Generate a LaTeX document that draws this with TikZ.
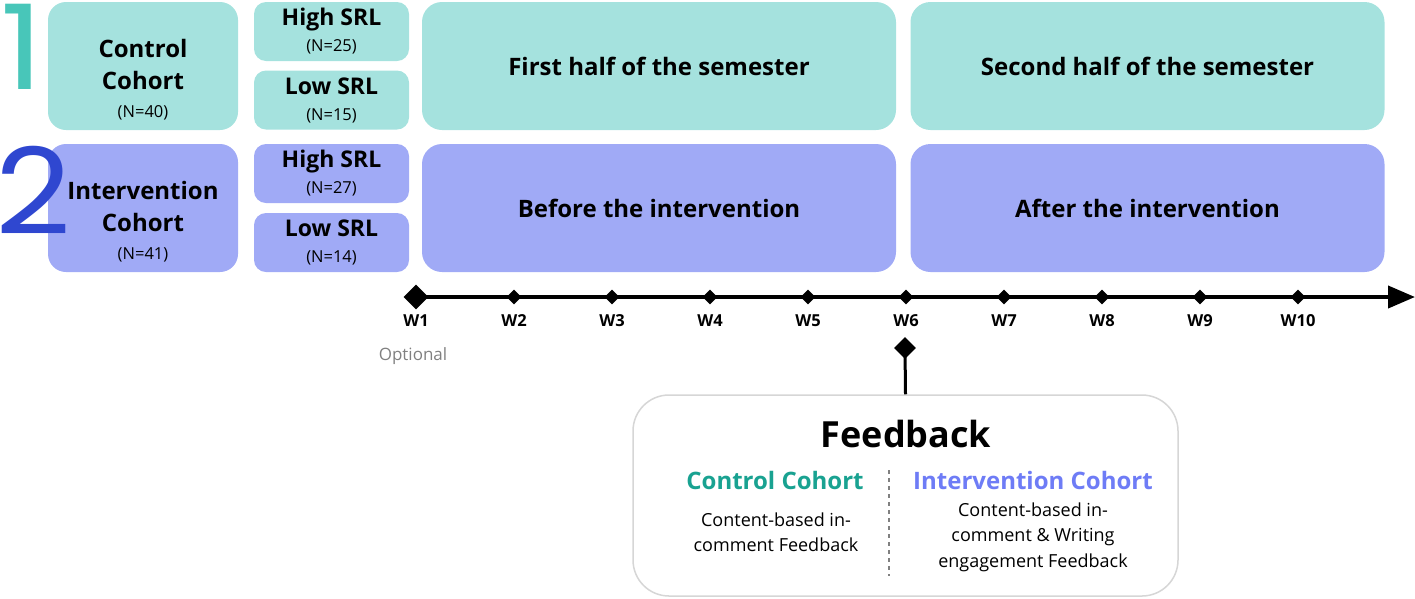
\documentclass[tikz,border=0pt]{standalone}
\usepackage{fontspec}
\setmainfont{Open Sans}
\newfontfamily\digitfont[FakeStretch=1.15]{Poppins}
\newfontfamily\digitwide[FakeStretch=1.1]{Poppins}
\usepackage{tikz}
\usetikzlibrary{shapes.geometric,arrows.meta}

\definecolor{tealbox}{HTML}{A5E2DE}
\definecolor{lavbox}{HTML}{A0AAF6}
\definecolor{tealdigit}{HTML}{48C6B9}
\definecolor{bluedigit}{HTML}{2F47D0}
\definecolor{tealtext}{HTML}{19A291}
\definecolor{lavtext}{HTML}{6E7CF6}
\definecolor{fbborder}{HTML}{D6D6D6}

\newcommand{\nsmall}{\fontsize{16.5}{18}\selectfont\mdseries}

\tikzset{
  cohortbox/.style={rounded corners=18pt,minimum width=190pt,minimum height=128pt},
  cohorttext/.style={align=center,font=\bfseries\fontsize{24}{32}\selectfont},
  srlbox/.style={rounded corners=12pt,minimum width=155pt,minimum height=59pt,align=center,font=\bfseries\fontsize{23}{28}\selectfont},
  phasebox/.style={rounded corners=20pt,minimum width=474pt,minimum height=128pt,font=\bfseries\fontsize{24}{28}\selectfont},
  weekmark/.style={shape=diamond,fill=black,inner sep=0pt,minimum size=15pt},
  weeklabel/.style={font=\bfseries\fontsize{16.5}{18}\selectfont}
}

\begin{document}
\begin{tikzpicture}[x=1pt,y=-1pt]
	\useasboundingbox (0,0) rectangle (1415,598);

	% control cohort row
	\node[cohortbox,fill=tealbox] (ctrl) at (143,66) {};
	\node[cohorttext] (ctrltext) at ([yshift=-14pt]ctrl.center) {Control\\Cohort\\[-4pt]{\nsmall(N=40)}};
	\node[srlbox,fill=tealbox] (chigh) at (331.5,31.5) {High SRL\\[-2pt]{\nsmall(N=25)}};
	\node[srlbox,fill=tealbox] (clow) at (331.5,100) {Low SRL\\[-2pt]{\nsmall(N=15)}};
	\node[phasebox,fill=tealbox] (first) at (659,66) {First half of the semester};
	\node[phasebox,fill=tealbox] (second) at (1147.5,66) {Second half of the semester};

	% intervention cohort row
	\node[cohortbox,fill=lavbox] (intv) at (143,208) {};
	\node[cohorttext] (intvtext) at ([yshift=-14pt]intv.center) {Intervention\\Cohort\\[-4pt]{\nsmall(N=41)}};
	\node[srlbox,fill=lavbox] (ihigh) at (331.5,173.5) {High SRL\\[-2pt]{\nsmall(N=27)}};
	\node[srlbox,fill=lavbox] (ilow) at (331.5,242.5) {Low SRL\\[-2pt]{\nsmall(N=14)}};
	\node[phasebox,fill=lavbox] (before) at (659,208) {Before the intervention};
	\node[phasebox,fill=lavbox] (after) at (1147.5,208) {After the intervention};

	% cohort numbers (on top of the boxes)
	\node[text=tealdigit,font=\digitfont\fontsize{118}{118}\selectfont] (one) at (22,46.5) {1};
	\node[text=bluedigit,font=\digitwide\fontsize{120}{120}\selectfont] (two) at (33,190) {2};

	% timeline
	\node[weekmark,minimum size=25pt] (w1) at (416,297) {};
	\foreach \i in {2,...,10}
		\node[weekmark] (w\i) at ({416+98*(\i-1)},297) {};
	\foreach \i in {1,...,10}
		\node[weeklabel] (l\i) at ({416+98*(\i-1)},321) {W\i};
	\coordinate (tend) at (1415,297);
	\draw[line width=4pt,-{Triangle[length=27pt,width=22pt]}] (w1.center) -- (tend);
	\node[text=gray,font=\fontsize{17}{18}\selectfont] (opt) at (413,356) {Optional};

	% feedback
	\node[weekmark,minimum size=22pt] (fbmark) at (905,348) {};
	\node[draw=fbborder,line width=1.5pt,fill=white,rounded corners=36pt,minimum width=545pt,minimum height=201pt] (fb) at (905.5,495.5) {};
	\draw[line width=3pt] (fbmark.center) -- (fb.north);
	\node[font=\bfseries\fontsize{36}{40}\selectfont] (fbtitle) at (906,434) {Feedback};
	\node[text=tealtext,font=\bfseries\fontsize{24}{26}\selectfont] (fbctrl) at (775,480) {Control Cohort};
	\node[text=lavtext,font=\bfseries\fontsize{24}{26}\selectfont] (fbintv) at (1033,480) {Intervention Cohort};
	\coordinate (dtop) at (889,470);
	\coordinate (dbot) at (889,576);
	\draw[gray,line width=1.2pt,dash pattern=on 4pt off 4pt] (dtop) -- (dbot);
	\node[align=center,font=\fontsize{18}{24.5}\selectfont] (fbctrltext) at (776,532) {Content-based in-\\comment Feedback};
	\node[align=center,font=\fontsize{18}{25.5}\selectfont] (fbintvtext) at (1033,537) {Content-based in-\\comment \& Writing\\engagement Feedback};
\end{tikzpicture}
\end{document}
